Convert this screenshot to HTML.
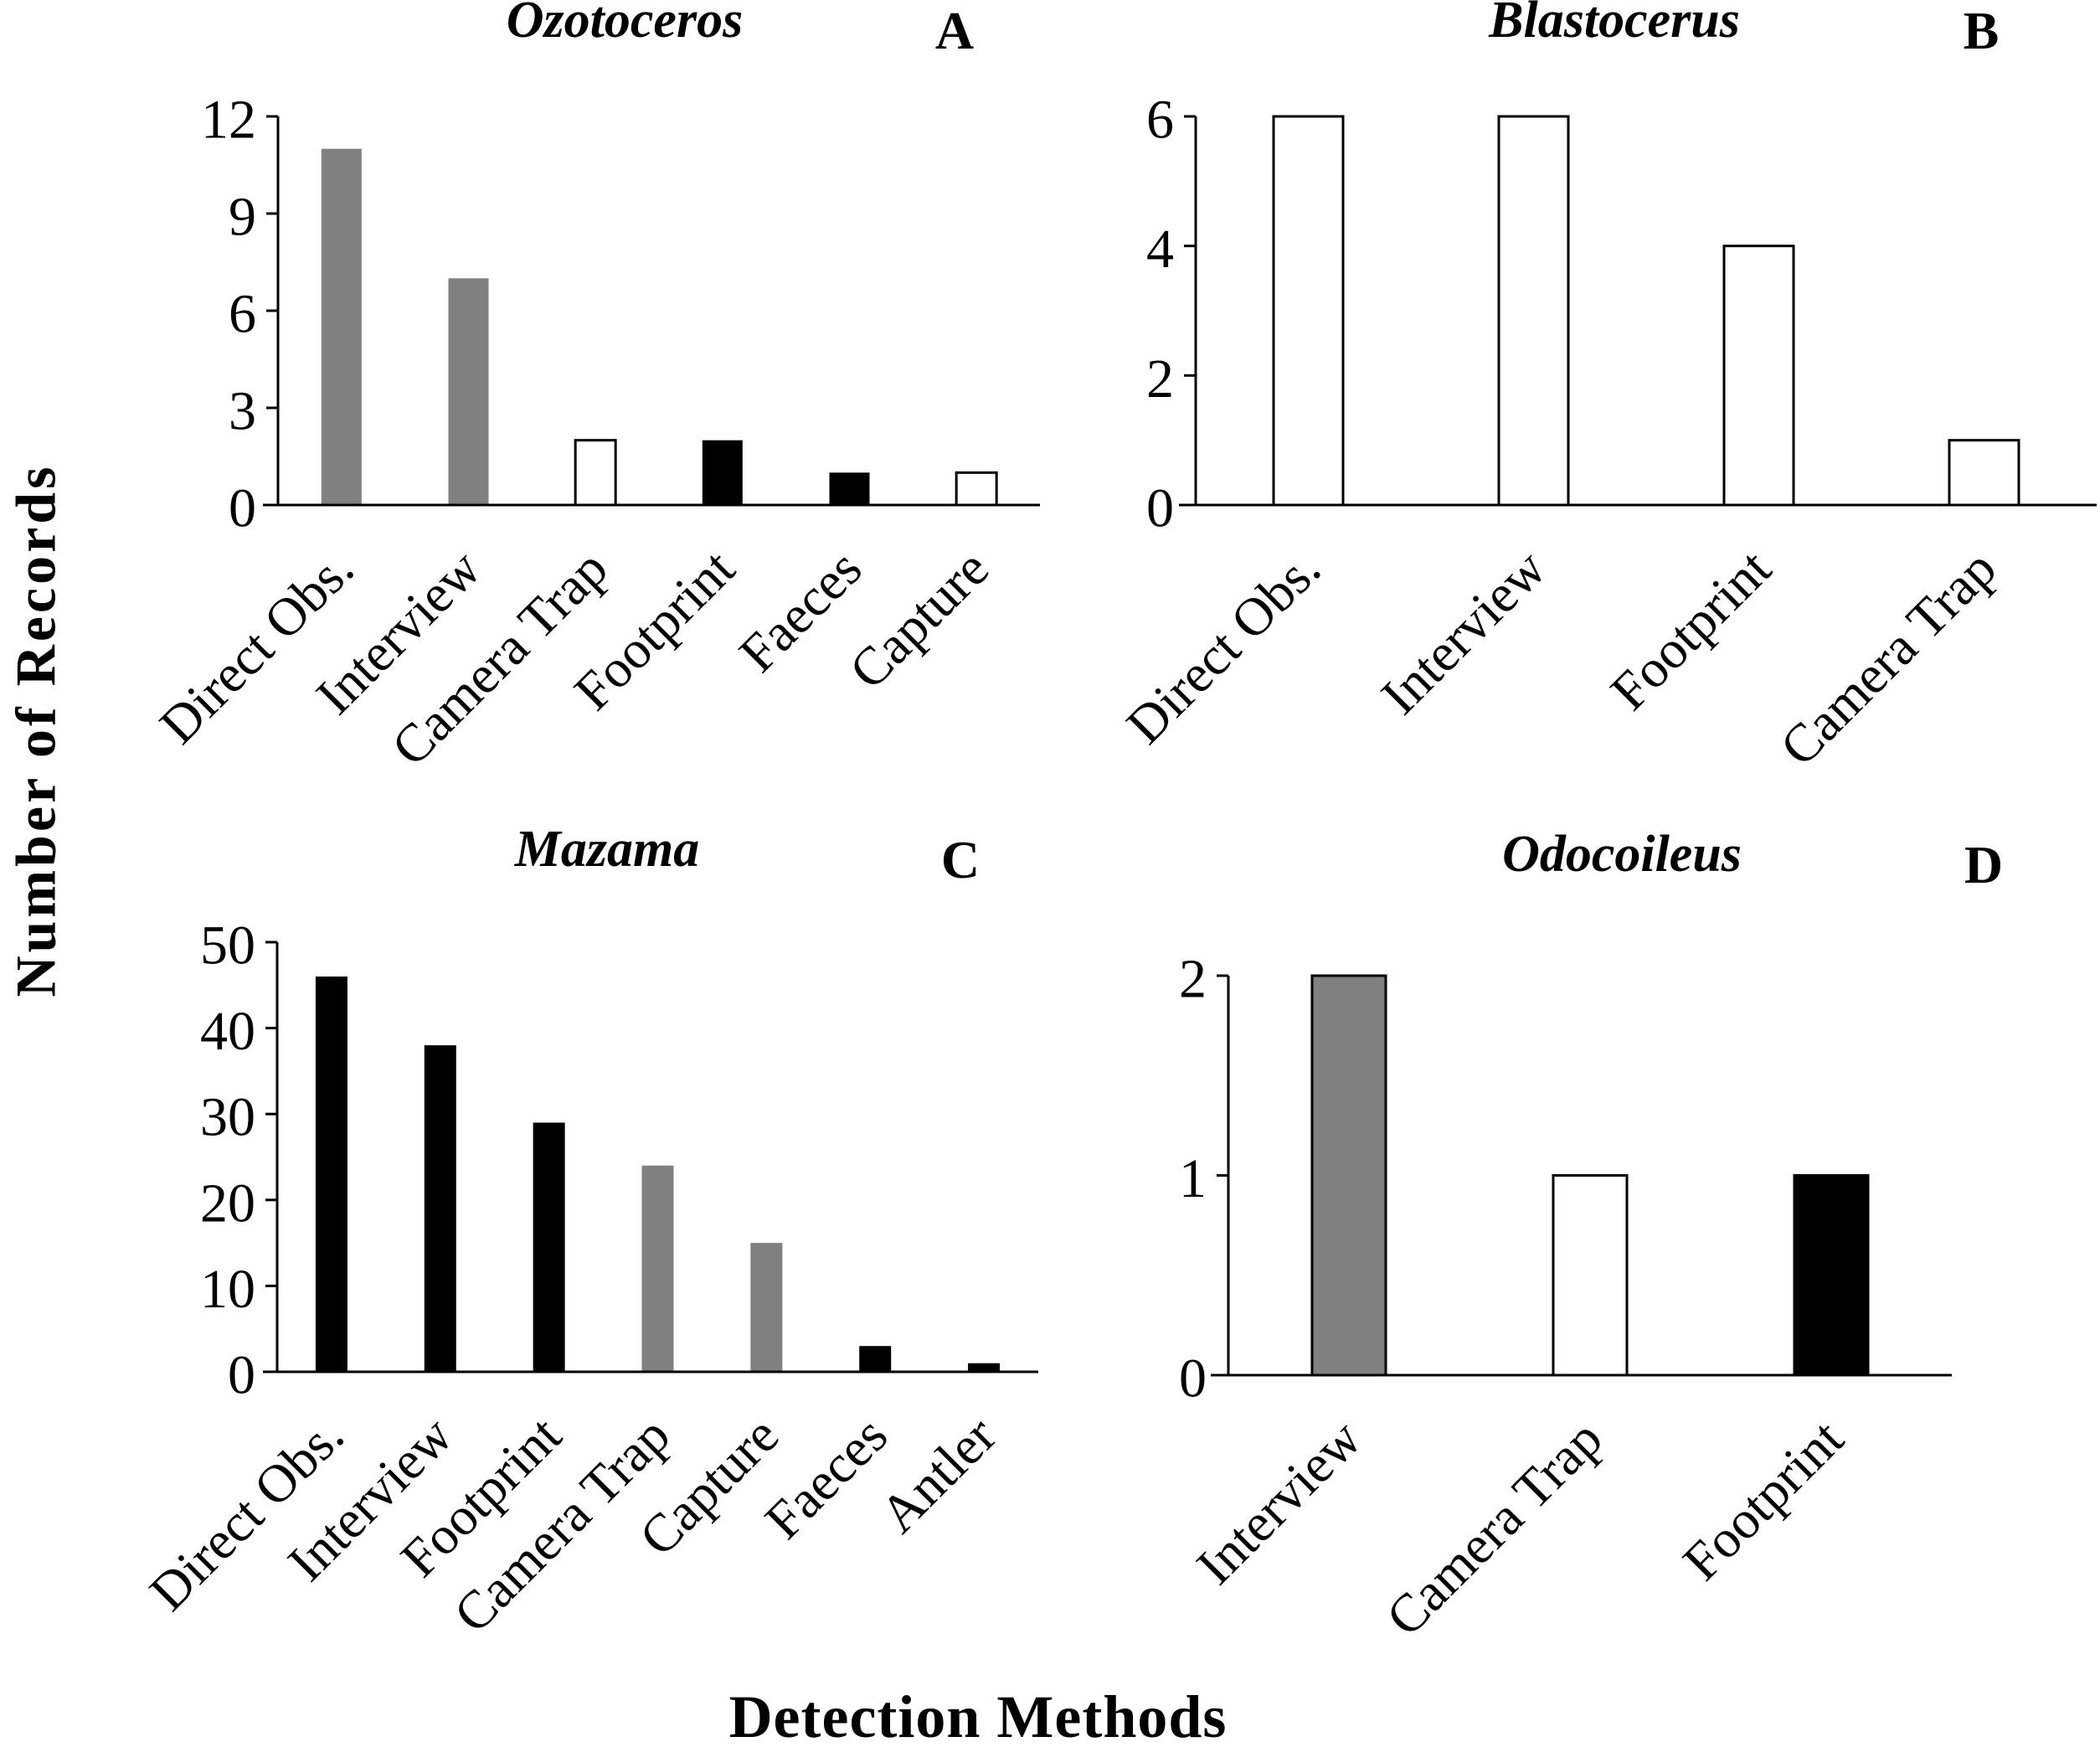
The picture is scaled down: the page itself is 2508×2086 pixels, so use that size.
<!DOCTYPE html>
<html><head><meta charset="utf-8"><style>
html,body{margin:0;padding:0;background:#fff;}
svg{display:block;font-family:"Liberation Serif",serif;}
</style></head><body>
<svg id="chart" width="2508" height="2086" viewBox="0 0 2508 2086" xmlns="http://www.w3.org/2000/svg">
<text x="50" y="872" transform="rotate(-90 50 872)" text-anchor="middle" dominant-baseline="middle" font-size="68" font-weight="bold" letter-spacing="4">Number of Records</text>
<text x="1168" y="2074" text-anchor="middle" font-size="72" font-weight="bold" letter-spacing="1">Detection Methods</text>
</svg>
<script>
const catsA = ["Direct Obs.","Interview","Camera Trap","Footprint","Faeces","Capture"];
const valsA = [11,7,2,2,1,1];
const colsA = ["g","g","w","k","k","w"];
const ticksA = [0,3,6,9,12];
const catsB = ["Direct Obs.","Interview","Footprint","Camera Trap"];
const valsB = [6,6,4,1];
const colsB = ["w","w","w","w"];
const ticksB = [0,2,4,6];
const catsC = ["Direct Obs.","Interview","Footprint","Camera Trap","Capture","Faeces","Antler"];
const valsC = [46,38,29,24,15,3,1];
const colsC = ["k","k","k","g","g","k","k"];
const ticksC = [0,10,20,30,40,50];
const catsD = ["Interview","Camera Trap","Footprint"];
const valsD = [2,1,1];
const colsD = ["g","w","k"];
const ticksD = [0,1,2];

const NS="http://www.w3.org/2000/svg";
const svg=document.getElementById('chart');
function mk(tag,attrs,parent){const e=document.createElementNS(NS,tag);for(const k in attrs)e.setAttribute(k,attrs[k]);(parent||svg).appendChild(e);return e;}

function panel(id,cfg,cats,vals,cols,ticks){
  const g=mk('g',{});
  
  
  const ymax=ticks[ticks.length-1];
  const ys=v=>cfg.y0-(v/ymax)*(cfg.y0-cfg.ytop);
  const step=(cfg.xr-cfg.ax)/cats.length;
  const xc=i=>cfg.ax+step*(i+0.5);
  const ya=mk('line',{x1:cfg.ax,y1:cfg.ytop,x2:cfg.ax,y2:cfg.y0,stroke:'#000','stroke-width':3},g);
  
  
  ticks.forEach(t=>{
    mk('line',{x1:cfg.ax-14,y1:ys(t),x2:cfg.ax,y2:ys(t),stroke:'#000','stroke-width':3},g);
    const tl=mk('text',{x:cfg.ax-26,y:ys(t)+4,'text-anchor':'end','dominant-baseline':'central','font-size':66},g);
    tl.textContent=t;
    
    
  });
  cats.forEach((c,i)=>{
    const v=vals[i];const x=xc(i)-cfg.bw/2;const y=ys(v);
    const fill=cols[i]==='g'?'#808080':cols[i]==='k'?'#000':'#fff';
    const r=mk('rect',{x:x,y:y,width:cfg.bw,height:cfg.y0-y,fill:fill,stroke:cols[i]==='w'||cfg.outline?'#000':'none','stroke-width':3},g);
    
    
    const lx=xc(i)+18, ly=cfg.y0+80;
    const t=mk('text',{x:lx,y:ly,'text-anchor':'end','font-size':64,transform:`rotate(-45 ${lx} ${ly})`},g);
    t.textContent=c;
    
    
  });
  const xa=mk('line',{x1:cfg.xl,y1:cfg.y0,x2:cfg.xr,y2:cfg.y0,stroke:'#000','stroke-width':3},g);
  
  
  const tt=mk('text',{x:cfg.tx,y:cfg.ty,'text-anchor':'middle','font-size':62,'font-weight':'bold','font-style':'italic'},g);
  tt.textContent=cfg.title;
  
  
  const lt=mk('text',{x:cfg.lx,y:cfg.ty+14,'text-anchor':'middle','font-size':64,'font-weight':'bold'},g);
  lt.textContent=id;
  
  
}
panel('A',{ax:332,xl:314,xr:1242,y0:603,ytop:139,bw:48,title:'Ozotoceros',tx:746,ty:44,lx:1140},catsA,valsA,colsA,ticksA);
panel('B',{ax:1428,xl:1408,xr:2504,y0:603,ytop:139,bw:83,title:'Blastocerus',tx:1928,ty:44,lx:2366},catsB,valsB,colsB,ticksB);
panel('C',{ax:331,xl:314,xr:1240,y0:1638,ytop:1125,bw:38,title:'Mazama',tx:725,ty:1034,lx:1147},catsC,valsC,colsC,ticksC);
panel('D',{ax:1467,xl:1446,xr:2331,y0:1642,ytop:1165,bw:88,outline:true,title:'Odocoileus',tx:1937,ty:1040,lx:2369},catsD,valsD,colsD,ticksD);
</script>
</body></html>
